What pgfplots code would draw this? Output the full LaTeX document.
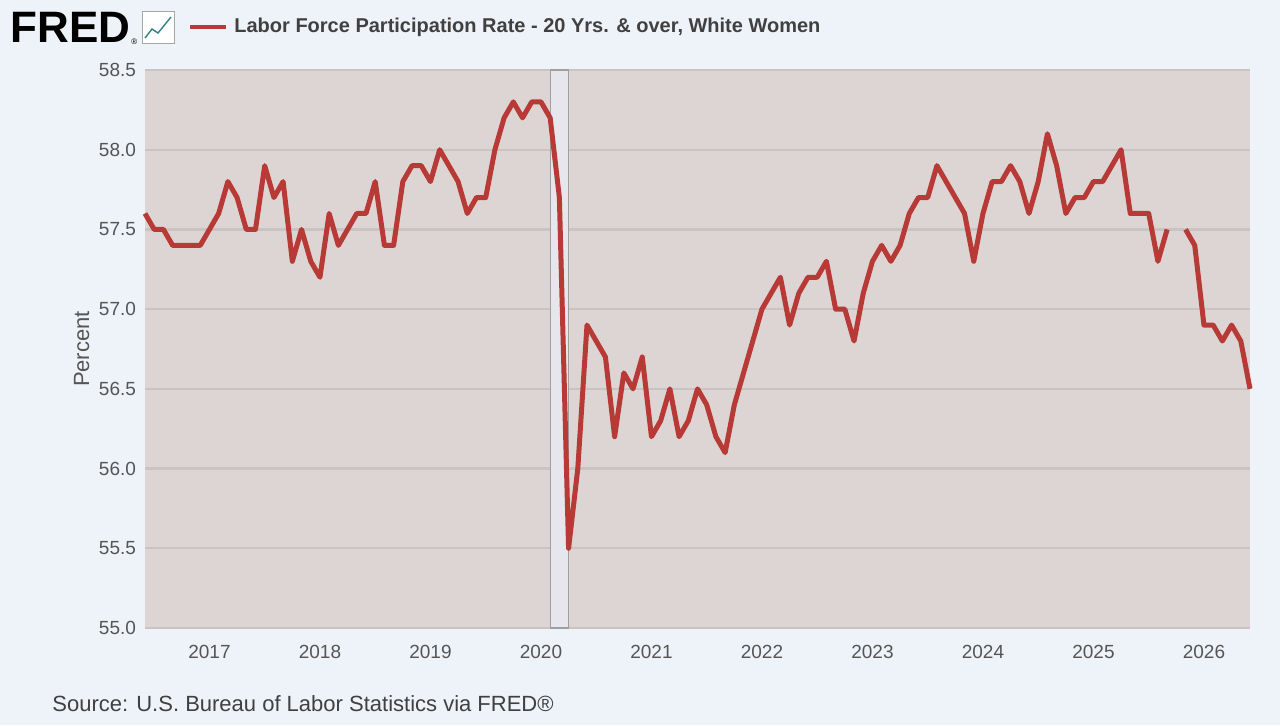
\documentclass[border=0pt]{standalone}
\usepackage{pgfplots}
\pgfplotsset{compat=1.18}
\usepackage{fontspec}
\setmainfont{Liberation Sans}
\definecolor{pagebg}{HTML}{EEF2F9}
\definecolor{plotbg}{HTML}{DDD5D4}
\definecolor{fredred}{HTML}{B83A36}
\definecolor{gridc}{HTML}{C9C3C2}
\definecolor{txt}{HTML}{555555}
\definecolor{recbg}{HTML}{E6E6EC}
\begin{document}
\begin{tikzpicture}[x=1pt,y=1pt]
\fill[pagebg] (0,0) rectangle (640,362.5);
% logo
\node[anchor=west,inner sep=0,font=\fontsize{22}{22}\selectfont\bfseries] at (5,349) {FRED};
\node[anchor=south west,inner sep=0,font=\fontsize{4}{4}\selectfont] at (65.5,340) {®};
\draw[gray!70,fill=white] (71,341) rectangle (87,357);
\draw[teal!60!gray,line width=0.7] (72.5,343.5) -- (76,348) -- (79,346) -- (85.5,354);
\draw[fredred,line width=1.6] (95,349) -- (113,349);
\node[anchor=west,inner sep=0,font=\fontsize{10}{10}\selectfont\bfseries,text=black!75] at (117,349) {Labor Force Participation Rate - 20 Yrs. \& over, White Women};
\node[anchor=west,inner sep=0,font=\fontsize{11}{11}\selectfont,text=black!75] at (26,10.5) {Source: U.S. Bureau of Labor Statistics via FRED®};
\begin{axis}[at={(72.5pt,48.5pt)},anchor=south west,
  scale only axis,width=552.5pt,height=279pt,
  xmin=5,xmax=125,ymin=55,ymax=58.5,
  axis background/.style={fill=plotbg},
  axis line style={draw=none},
  xtick={12,24,...,120},
  xticklabels={2017,2018,2019,2020,2021,2022,2023,2024,2025,2026},
  ytick={55,55.5,...,58.5},
  yticklabel style={/pgf/number format/fixed,/pgf/number format/fixed zerofill,/pgf/number format/precision=1,xshift=-1pt},
  /pgf/number format/assume math mode=true,
  ymajorgrids,grid style={gridc,line width=1.2pt},
  tick style={draw=none},
  ticklabel style={font=\fontsize{9.5}{9.5}\selectfont,text=txt},
  xticklabel style={yshift=-5pt},
  ylabel={Percent},ylabel style={font=\fontsize{11}{11}\selectfont,text=txt,yshift=-2pt},
  clip=false,unbounded coords=jump]
\fill[recbg,draw=gray!75,line width=0.6pt] (axis cs:49,55) rectangle (axis cs:51,58.5);
\addplot[fredred,line width=2.5pt,line join=round] coordinates {
(5,57.6)(6,57.5)(7,57.5)(8,57.4)(9,57.4)(10,57.4)(11,57.4)
(12,57.5)(13,57.6)(14,57.8)(15,57.7)(16,57.5)(17,57.5)(18,57.9)(19,57.7)(20,57.8)(21,57.3)(22,57.5)(23,57.3)
(24,57.2)(25,57.6)(26,57.4)(27,57.5)(28,57.6)(29,57.6)(30,57.8)(31,57.4)(32,57.4)(33,57.8)(34,57.9)(35,57.9)
(36,57.8)(37,58.0)(38,57.9)(39,57.8)(40,57.6)(41,57.7)(42,57.7)(43,58.0)(44,58.2)(45,58.3)(46,58.2)(47,58.3)
(48,58.3)(49,58.2)(50,57.7)(51,55.5)(52,56.0)(53,56.9)(54,56.8)(55,56.7)(56,56.2)(57,56.6)(58,56.5)(59,56.7)
(60,56.2)(61,56.3)(62,56.5)(63,56.2)(64,56.3)(65,56.5)(66,56.4)(67,56.2)(68,56.1)(69,56.4)(70,56.6)(71,56.8)
(72,57.0)(73,57.1)(74,57.2)(75,56.9)(76,57.1)(77,57.2)(78,57.2)(79,57.3)(80,57.0)(81,57.0)(82,56.8)(83,57.1)
(84,57.3)(85,57.4)(86,57.3)(87,57.4)(88,57.6)(89,57.7)(90,57.7)(91,57.9)(92,57.8)(93,57.7)(94,57.6)(95,57.3)
(96,57.6)(97,57.8)(98,57.8)(99,57.9)(100,57.8)(101,57.6)(102,57.8)(103,58.1)(104,57.9)(105,57.6)(106,57.7)(107,57.7)
(108,57.8)(109,57.8)(110,57.9)(111,58.0)(112,57.6)(113,57.6)(114,57.6)(115,57.3)(116,57.5)(117,nan)(118,57.5)(119,57.4)
(120,56.9)(121,56.9)(122,56.8)(123,56.9)(124,56.8)(125,56.5)
};
\end{axis}
\end{tikzpicture}
\end{document}
